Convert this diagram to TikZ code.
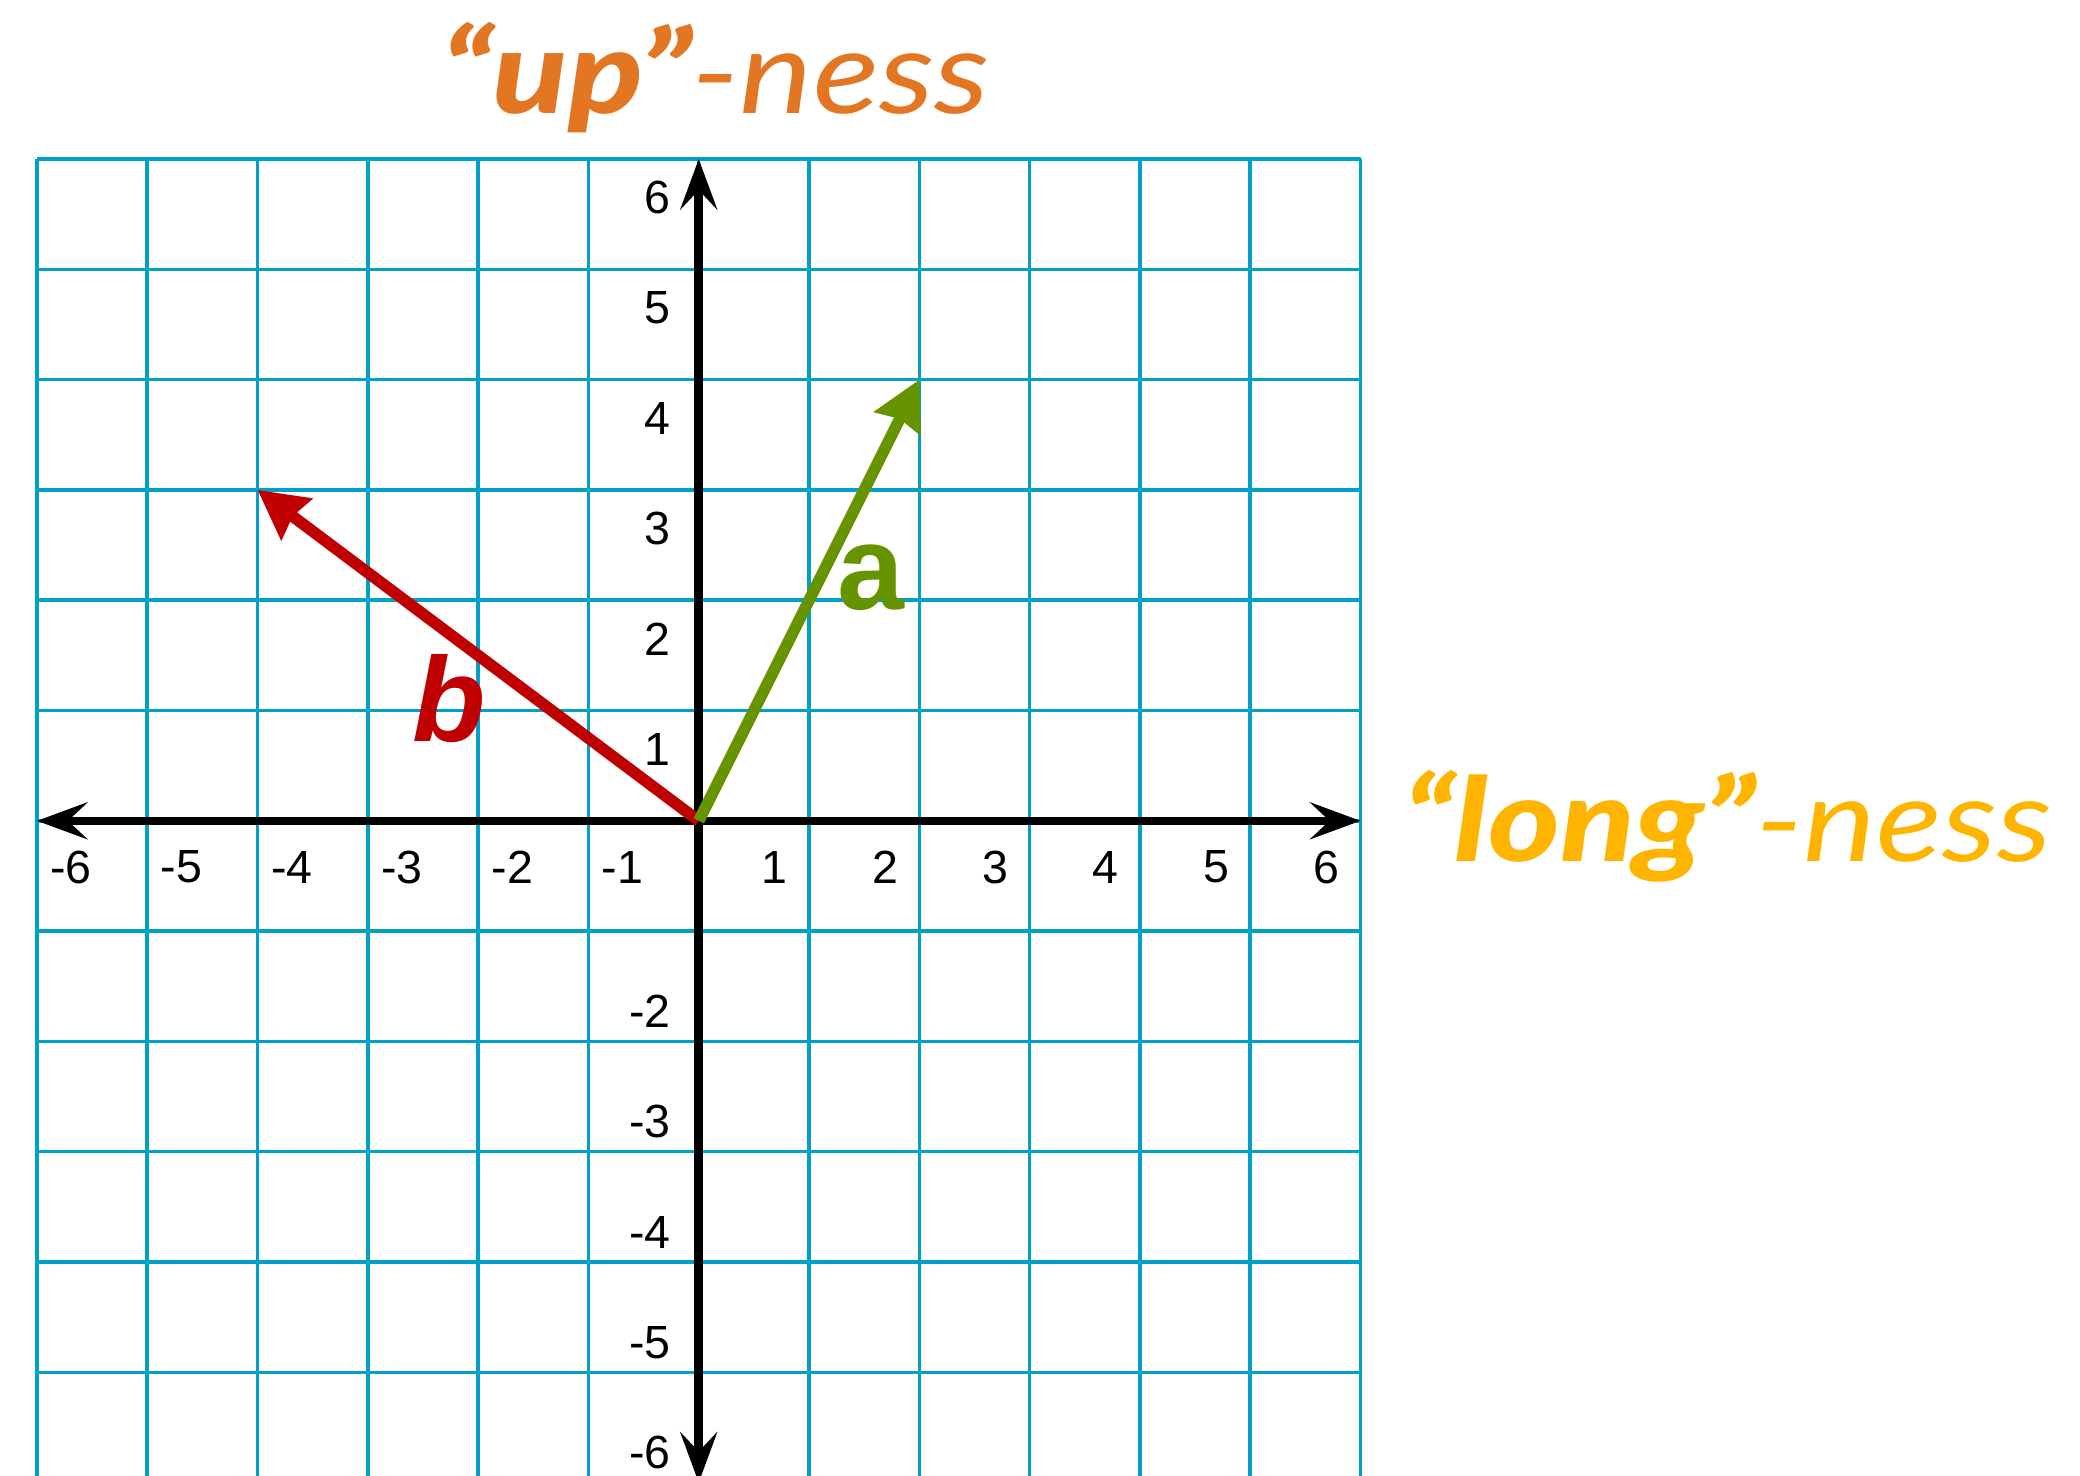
\documentclass[tikz,border=0pt]{standalone}
\usepackage{fontspec}
\setmainfont{Liberation Sans}
\newfontfamily\heavyfont{Lato Black Italic}
\newfontfamily\lightfont{Lato Italic}
\usetikzlibrary{arrows.meta}
\definecolor{gridblue}{RGB}{0,160,200}
\definecolor{vecgreen}{RGB}{102,148,0}
\definecolor{vecred}{RGB}{192,0,0}
\definecolor{uporange}{RGB}{227,118,34}
\definecolor{longyellow}{RGB}{255,181,0}
\tikzset{
  gridline/.style={draw=gridblue, line width=0.9pt},
  axisline/.style={draw=black, line width=2.2pt, {Stealth[length=13pt,width=9.5pt,inset=5pt]}-{Stealth[length=13pt,width=9.5pt,inset=5pt]}},
  vecline/.style={line width=3pt, -{Stealth[length=12.5pt,width=13pt,inset=1.2pt]}},
  ticklabel/.style={inner sep=0pt, font=\fontsize{12}{14}\selectfont},
  vlabel/.style={inner sep=0pt, anchor=base, font=\fontsize{31}{36}\selectfont\bfseries},
  title/.style={inner sep=0pt, anchor=base west, font=\fontsize{30}{36}\selectfont}
}
\begin{document}
\begin{tikzpicture}
\useasboundingbox (-6.335,-5.940) rectangle (12.523,7.442);
\clip (-6.335,-5.940) rectangle (12.523,7.442);
% grid
\draw[gridline] (-6,-6) grid (6,6);
% coordinates
\coordinate (O) at (0,0);
\coordinate (xl) at (-6,0);
\coordinate (xr) at (6,0);
\coordinate (yb) at (0,-6);
\coordinate (yt) at (0,6);
\coordinate (A) at (2,4);
\coordinate (B) at (-4,3);
% axes
\draw[axisline] (xl) -- (xr);
\draw[axisline] (yb) -- (yt);
% vectors
\draw[vecline, draw=vecred, fill=vecred] (O) -- (B);
\draw[vecline, draw=vecgreen, fill=vecgreen] (O) -- (A);
% tick labels x
\foreach \n in {1,...,6} {
  \node[ticklabel] (xp\n) at (\n-0.31,-0.42) {\n};
  \node[ticklabel] (xn\n) at (-\n+0.31,-0.42) {-\n};
}
% tick labels y
\foreach \n in {1,...,6} {
  \node[ticklabel, anchor=east] (yp\n) at (-0.25,\n-0.35) {\n};
}
\foreach \n in {2,...,6} {
  \node[ticklabel, anchor=east] (yn\n) at (-0.25,-\n+0.27) {-\n};
}
% vector labels
\node[vlabel, text=vecgreen] (la) at (1.56,1.912) {a};
\node[vlabel, text=vecred] (lb) at (-2.26,0.716) {\itshape b};
% titles
\node[title, text=uporange] (upness) at (-2.34,6.417) {\scalebox{1.19}[1]{{\heavyfont “up”}{\lightfont -ness}}};
\node[title, text=longyellow] (longness) at (6.38,-0.372) {\scalebox{1.18}[1]{{\heavyfont “long”}{\lightfont -ness}}};
\end{tikzpicture}
\end{document}
